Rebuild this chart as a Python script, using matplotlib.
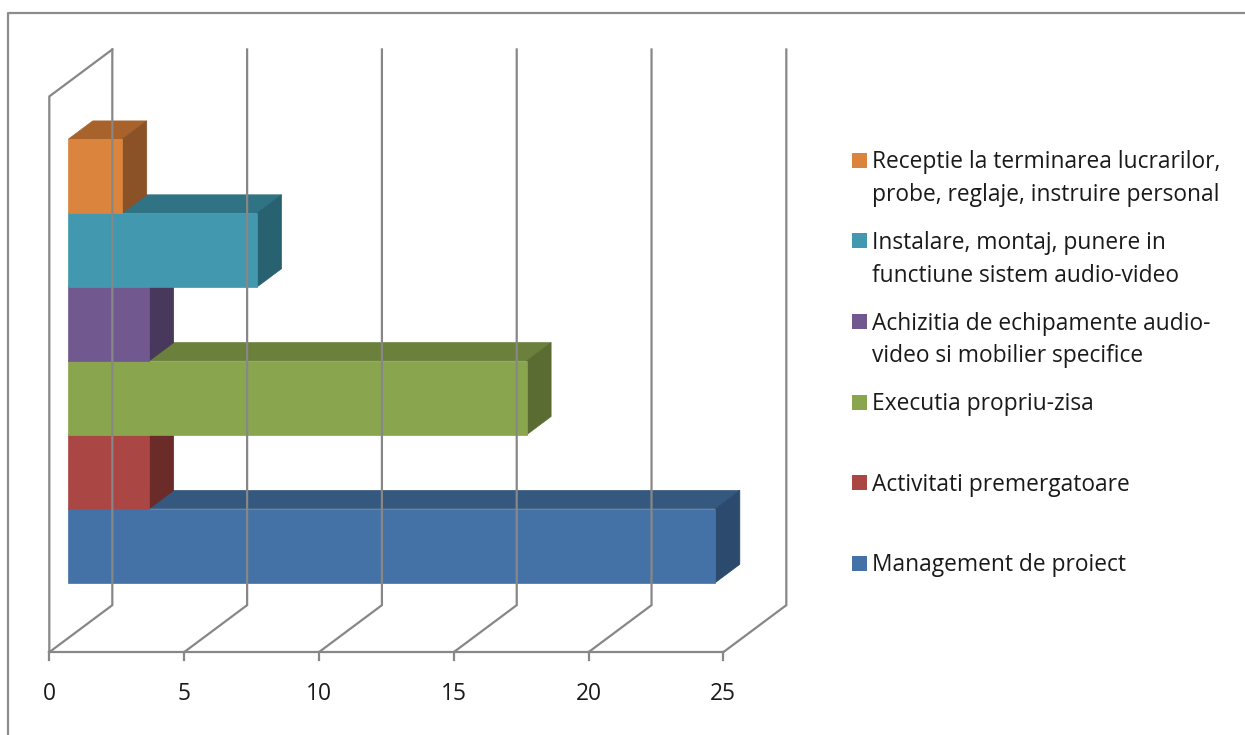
import matplotlib
matplotlib.use('Agg')
import matplotlib.pyplot as plt
from matplotlib.patches import Polygon, Rectangle
from matplotlib.lines import Line2D

plt.rcParams['font.family'] = ['Open Sans', 'DejaVu Sans']

# series, bottom to top
labels = [
    'Management de proiect',
    'Activitati premergatoare',
    'Executia propriu-zisa',
    'Achizitia de echipamente audio-\nvideo si mobilier specifice',
    'Instalare, montaj, punere in\nfunctiune sistem audio-video',
    'Receptie la terminarea lucrarilor,\nprobe, reglaje, instruire personal',
]
values = [24, 3, 17, 3, 7, 2]
x_ticks = [0, 5, 10, 15, 20, 25]

front_colors = ['#4472A6', '#AA4643', '#89A54E', '#71588F', '#4198AF', '#DB843D']
top_colors = ['#35587F', '#843634', '#6A803B', '#58446F', '#2F7384', '#A8622B']
side_colors = ['#2C4A6D', '#6B2B29', '#5A6C32', '#48385B', '#286170', '#8A5226']

GRID = '#878787'
FONT_SIZE = 16.4
W, H = 1245, 735

# oblique projection: depth d in [0, 1] from front to back wall
DX, DY = 2.337, 0.636
D0, D1 = 0.30, 0.69
C_FLOOR, C_TOP = -1.25, 6.27
TICK_LEN = 0.108


def proj(v, c, d):
    return (v + d * DX, c + d * DY)


fig = plt.figure(figsize=(W / 100, H / 100), dpi=100)
ax = fig.add_axes([0, 0, 1, 1])
ax.set_xlim(-1.829, 44.35)
ax.set_ylim(-2.371, 7.575)
ax.axis('off')

# walls: gridlines on floor and back wall
for v in x_ticks:
    pts = [proj(v, C_FLOOR, 0), proj(v, C_FLOOR, 1), proj(v, C_TOP, 1)]
    ax.plot([p[0] for p in pts], [p[1] for p in pts], color=GRID, lw=1.6,
            solid_joinstyle='miter')
    ax.plot([v, v], [C_FLOOR, C_FLOOR - TICK_LEN], color=GRID, lw=1.6)
    ax.annotate(str(v), (v, C_FLOOR), xytext=(0, -42), textcoords='offset pixels',
                ha='center', va='center', fontsize=FONT_SIZE, color='#1a1a1a')

# left wall and front axis line
pts = [proj(0, C_FLOOR, 0), proj(0, C_TOP, 0), proj(0, C_TOP, 1)]
ax.plot([p[0] for p in pts], [p[1] for p in pts], color=GRID, lw=1.6,
        solid_joinstyle='miter')
ax.plot([0, x_ticks[-1]], [C_FLOOR, C_FLOOR], color=GRID, lw=1.6)

# 3d bars
for i, v in enumerate(values):
    c0, c1 = i - 0.5, i + 0.5
    top = [proj(0, c1, D0), proj(v, c1, D0), proj(v, c1, D1), proj(0, c1, D1)]
    side = [proj(v, c0, D0), proj(v, c0, D1), proj(v, c1, D1), proj(v, c1, D0)]
    front = [proj(0, c0, D0), proj(v, c0, D0), proj(v, c1, D0), proj(0, c1, D0)]
    ax.add_patch(Polygon(top, closed=True, fc=top_colors[i], ec=top_colors[i], lw=0.5))
    ax.add_patch(Polygon(side, closed=True, fc=side_colors[i], ec=side_colors[i], lw=0.5))
    ax.add_patch(Polygon(front, closed=True, fc=front_colors[i], ec=front_colors[i], lw=0.5))

# legend, drawn in pixel coordinates from the top left corner
def fx(px):
    return px / W


def fy(py):
    return 1 - py / H


n = len(labels)
for k, i in enumerate(reversed(range(n))):
    yc = 160.3 + k * 80.6
    fig.add_artist(Rectangle((fx(852), fy(yc + 7.5)), 15 / W, 15 / H,
                             transform=fig.transFigure, fc=front_colors[i], ec='none'))
    for j, line in enumerate(labels[i].split('\n')):
        fig.text(fx(872), fy(yc + 8 + 33 * j), line, ha='left', va='baseline',
                 fontsize=FONT_SIZE, color='#1a1a1a')

# chart area border
fig.add_artist(Line2D([fx(8), fx(8), 1], [0, fy(12.5), fy(12.5)],
                      transform=fig.transFigure, color='#8C8C8C', lw=1.6))

fig.savefig('out.png', dpi=100)
